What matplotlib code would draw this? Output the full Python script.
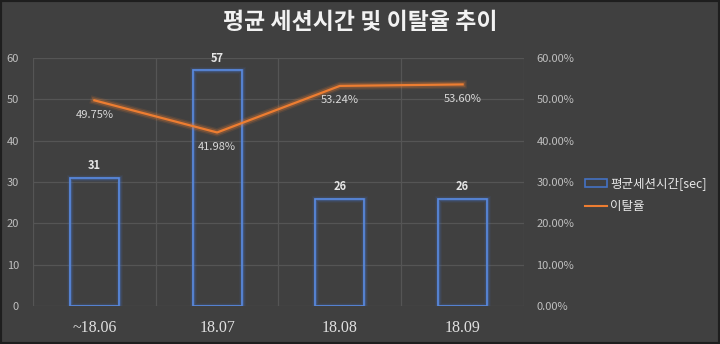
import matplotlib.pyplot as plt
import matplotlib.patheffects as pe
from matplotlib.patches import Rectangle, Patch
from matplotlib.lines import Line2D
from matplotlib.ticker import FuncFormatter

plt.rcParams['font.family'] = ['Noto Sans CJK KR', 'DejaVu Sans']

# 월별 평균 세션시간과 이탈율
months = ['~18.06', '18.07', '18.08', '18.09']
session_sec = [31, 57, 26, 26]
bounce_pct = [49.75, 41.98, 53.24, 53.60]

bg = '#404040'
txt = '#bfbfbf'
blue = '#4472C4'
orange = '#ED7D31'

fig = plt.figure(figsize=(7.2, 3.44), dpi=100, facecolor=bg)
ax = fig.add_axes([0.0458, 0.1105, 0.682, 0.721])
ax.set_facecolor(bg)

x = list(range(len(months)))

# 막대 (테두리만, 은은한 번짐 효과)
for lw, a in [(5, 0.08), (3.5, 0.15), (2.2, 0.3)]:
    ax.bar(x, session_sec, width=0.4, facecolor='none', edgecolor=blue,
           linewidth=lw, alpha=a, zorder=3)
ax.bar(x, session_sec, width=0.4, facecolor='none', edgecolor='#5a8ae0',
       linewidth=1.2, zorder=4)
for xi, v in zip(x, session_sec):
    ax.text(xi, v + 1.3, str(v), ha='center', va='bottom', fontsize=8,
            fontweight='bold', color='#e6e6e6', zorder=5)

ax.set_ylim(0, 60)
ax.set_xlim(-0.5, 3.5)
ax.set_yticks(range(0, 61, 10))
ax.set_xticks(x)
ax.set_xticklabels(months, family='Liberation Serif', fontsize=11.5, color='#e0e0e0')
ax.set_xticks([-0.5, 0.5, 1.5, 2.5, 3.5], minor=True)
ax.tick_params(axis='x', which='both', length=0, pad=10)
ax.tick_params(axis='y', length=0, labelsize=8, colors=txt, pad=10)
ax.grid(axis='y', color='#555555', linewidth=0.9)
ax.grid(axis='x', which='minor', color='#555555', linewidth=0.9)
ax.set_axisbelow(True)
for s in ax.spines.values():
    s.set_visible(False)

# 이탈율 (보조축)
ax2 = ax.twinx()
ax2.set_ylim(0, 60)
glow = [pe.Stroke(linewidth=6, foreground=orange, alpha=0.12),
        pe.Stroke(linewidth=4, foreground=orange, alpha=0.25),
        pe.Normal()]
ax2.plot(x, bounce_pct, color=orange, linewidth=1.6, zorder=6, path_effects=glow)
for xi, v in zip(x, bounce_pct):
    ax2.text(xi, v - 2.3, f'{v:.2f}%', ha='center', va='top', fontsize=8,
             color='#d9d9d9', zorder=7)
ax2.set_yticks(range(0, 61, 10))
ax2.yaxis.set_major_formatter(FuncFormatter(lambda v, p: f'{v:.2f}%'))
ax2.tick_params(axis='y', length=0, labelsize=8, colors=txt, pad=9)
for s in ax2.spines.values():
    s.set_visible(False)

fig.text(0.5, 0.935, '평균 세션시간 및 이탈율 추이', ha='center', va='center',
         fontsize=16.5, fontweight='bold', color='#f2f2f2')

handles = [Patch(facecolor='none', edgecolor=blue, linewidth=1.2),
           Line2D([0], [0], color=orange, linewidth=1.5)]
fig.legend(handles, ['평균세션시간[sec]', '이탈율'], loc='center left',
           bbox_to_anchor=(0.8, 0.432), frameon=False, fontsize=9,
           labelcolor='#e6e6e6', handlelength=1.8, handletextpad=0.25,
           labelspacing=0.8, borderpad=0.2)

# 바깥 테두리
fig.add_artist(Rectangle((0, 0), 1, 1, transform=fig.transFigure, fill=False,
                         edgecolor='#1e1e1e', linewidth=3))

fig.savefig('out.png', dpi=100, facecolor=bg)
